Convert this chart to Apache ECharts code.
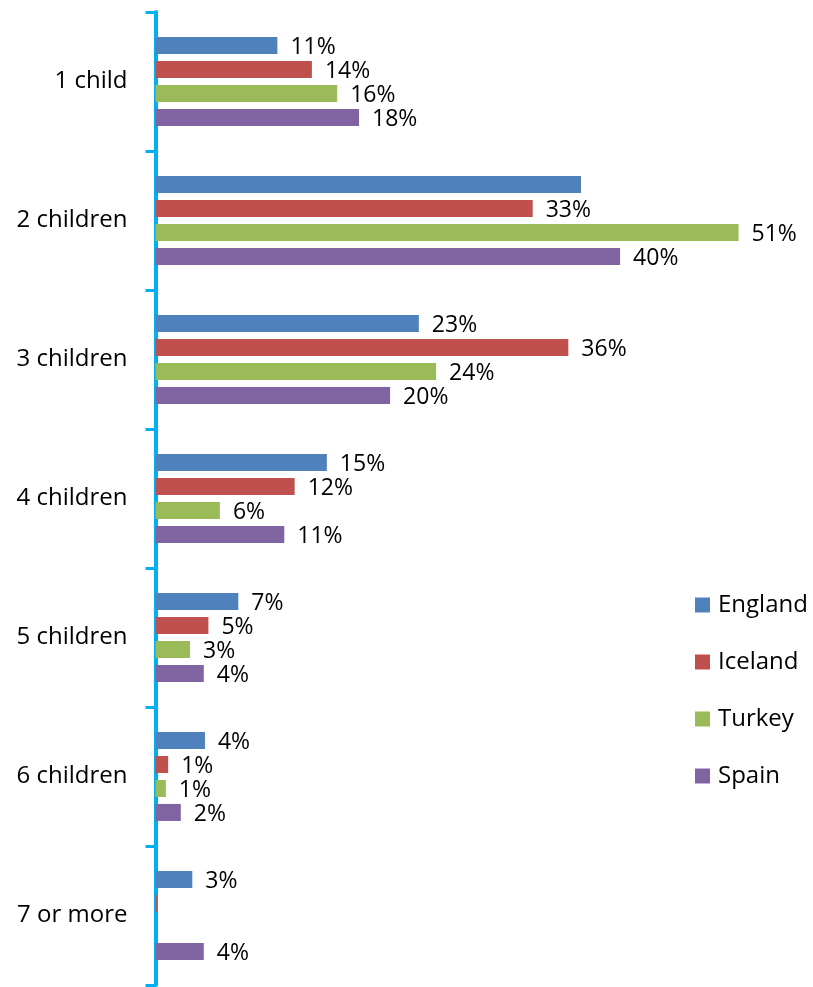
<!DOCTYPE html>
<html>
<head>
<meta charset="utf-8">
<script src="https://cdn.jsdelivr.net/npm/echarts@6/dist/echarts.min.js"></script>
<style>
html,body{margin:0;padding:0;background:#fff;}
#chart{width:813px;height:987px;}
</style>
</head>
<body>
<div id="chart"></div>
<script>
const categories = ['1 child', '2 children', '3 children', '4 children', '5 children', '6 children', '7 or more'];
const seriesNames = ['England', 'Iceland', 'Turkey', 'Spain'];
const england = [10.6, 37.0, 22.9, 14.9, 7.2, 4.3, 3.2];
const iceland = [13.6, 32.8, 35.9, 12.1, 4.6, 1.1, 0.15];
const turkey  = [15.8, 50.7, 24.4, 5.6, 3.0, 0.9, null];
const spain   = [17.7, 40.4, 20.4, 11.2, 4.2, 2.2, 4.2];
const hiddenLabels = [['England', '2 children']];
const colors = ['#4f81bd', '#c0504d', '#9bbb59', '#8064a2'];

const FONT = 'Open Sans';
const allValues = [england, iceland, turkey, spain];

function buildData(name, vals) {
  return vals.map((v, i) => {
    const hide = v == null || v < 0.5 || hiddenLabels.some(h => h[0] === name && h[1] === categories[i]);
    return hide ? { value: v, label: { show: false } } : v;
  });
}

const chart = echarts.init(document.getElementById('chart'));
chart.setOption({
  animation: false,
  backgroundColor: '#ffffff',
  color: colors,
  grid: { left: 155.5, right: 25, top: 12, bottom: 2, containLabel: false },
  legend: {
    orient: 'vertical',
    left: 690,
    top: 588,
    itemWidth: 15,
    itemHeight: 15,
    itemGap: 33,
    icon: 'rect',
    textStyle: { fontFamily: FONT, fontSize: 24, color: '#000', padding: [0, 0, 0, 3] },
    data: seriesNames
  },
  xAxis: {
    type: 'value',
    min: 0,
    max: 55,
    show: false
  },
  yAxis: {
    type: 'category',
    data: categories,
    inverse: true,
    boundaryGap: true,
    axisLine: { show: true, lineStyle: { color: '#00b0f0', width: 4 } },
    axisTick: { show: true, length: 10, lineStyle: { color: '#00b0f0', width: 3 } },
    axisLabel: { fontFamily: FONT, fontSize: 24, color: '#000', margin: 28 },
    splitLine: { show: false }
  },
  series: seriesNames.map((name, k) => ({
    name: name,
    type: 'bar',
    data: buildData(name, allValues[k]),
    barWidth: 17,
    barGap: '41%',
    itemStyle: { color: colors[k] },
    label: {
      show: true,
      position: 'right',
      distance: 13,
      offset: [0, 2],
      fontFamily: FONT,
      fontSize: 23,
      color: '#000',
      formatter: p => Math.round(p.value) + '%'
    }
  }))
});
</script>
</body>
</html>
